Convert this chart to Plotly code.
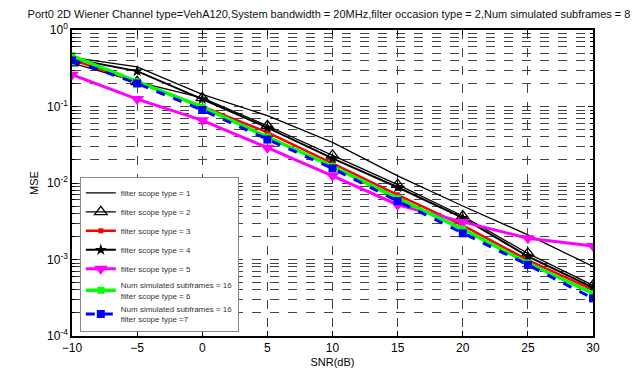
import plotly.graph_objects as go

snr = [-10, -5, 0, 5, 10, 15, 20, 25, 30]

mse_type1 = [0.44, 0.33, 0.144, 0.076, 0.034, 0.0124, 0.0050, 0.0021, 0.00081]
mse_type2 = [0.37, 0.21, 0.13, 0.056, 0.023, 0.0095, 0.0037, 0.0012, 0.00046]
mse_type3 = [0.41, 0.21, 0.10, 0.046, 0.018, 0.0070, 0.0028, 0.00098, 0.00040]
mse_type4 = [0.42, 0.29, 0.125, 0.053, 0.021, 0.0088, 0.0035, 0.0011, 0.00043]
mse_type5 = [0.26, 0.125, 0.066, 0.029, 0.0124, 0.0052, 0.0031, 0.0019, 0.0015]
mse_type6 = [0.46, 0.21, 0.098, 0.040, 0.0165, 0.0063, 0.0025, 0.00090, 0.00036]
mse_type7 = [0.40, 0.20, 0.090, 0.037, 0.0155, 0.0058, 0.0022, 0.00085, 0.00031]

names = [
    "filter scope type = 1",
    "filter scope type = 2",
    "filter scope type = 3",
    "filter scope type = 4",
    "filter scope type = 5",
    "Num simulated subframes = 16<br>filter scope type = 6",
    "Num simulated subframes = 16<br>filter scope type =7",
]

ytick_vals = [1e-4, 1e-3, 1e-2, 1e-1, 1]
ytick_text = ["10<sup>-4</sup>", "10<sup>-3</sup>", "10<sup>-2</sup>", "10<sup>-1</sup>", "10<sup>0</sup>"]
xtick_vals = [-10, -5, 0, 5, 10, 15, 20, 25, 30]

title = ("Port0 2D Wiener Channel type=VehA120,System bandwidth = 20MHz,"
         "filter occasion type = 2,Num simulated subframes = 8")

fig = go.Figure()
styles = [
    (mse_type1, dict(color="black", width=1.3), None),
    (mse_type2, dict(color="black", width=1.3), dict(symbol="triangle-up-open", size=11, color="black", line=dict(width=1.3, color="black"))),
    (mse_type3, dict(color="red", width=2.5), dict(symbol="square", size=5, color="red")),
    (mse_type4, dict(color="black", width=2), dict(symbol="star", size=9, color="black")),
    (mse_type5, dict(color="magenta", width=3), dict(symbol="triangle-down", size=12, color="magenta")),
    (mse_type6, dict(color="#00ff00", width=3.5), dict(symbol="square", size=7, color="#00ff00")),
    (mse_type7, dict(color="blue", width=3, dash="dash"), dict(symbol="square", size=8, color="blue")),
]
for (vals, line, marker), name in zip(styles, names):
    fig.add_trace(go.Scatter(
        x=snr, y=vals, name=name,
        mode="lines+markers" if marker else "lines",
        line=line, marker=marker,
    ))

grid = dict(gridcolor="#444", griddash="dash", gridwidth=1)
fig.update_layout(
    width=642, height=371,
    margin=dict(l=64, r=57, t=22, b=39),
    paper_bgcolor="white", plot_bgcolor="white",
    font=dict(family="Liberation Sans, Arial", size=12, color="black"),
    title=dict(text=title, x=0.5, xanchor="center", y=0.993, yanchor="top",
               font=dict(size=11, color="#111")),
    showlegend=True,
    legend=dict(x=0.015, y=0.012, xanchor="left", yanchor="bottom",
                bgcolor="white", bordercolor="#888", borderwidth=1,
                font=dict(size=8, color="#333"), tracegroupgap=0,
                itemwidth=30),
    xaxis=dict(
        range=[-10, 30], tickvals=xtick_vals, showgrid=True, **grid,
        showline=True, linecolor="black", linewidth=1.5, mirror="ticks",
        ticks="inside", ticklen=5, tickcolor="black", zeroline=False,
        title=dict(text="SNR(dB)", standoff=4, font=dict(size=11)),
    ),
    yaxis=dict(
        type="log", range=[-4, 0], tickvals=ytick_vals, ticktext=ytick_text,
        showgrid=True, **grid,
        minor=dict(dtick="D1", showgrid=True, gridcolor="#444", griddash="dash",
                   ticks="inside", ticklen=3, tickcolor="black"),
        showline=True, linecolor="black", linewidth=1.5, mirror="ticks",
        ticks="inside", ticklen=5, tickcolor="black", zeroline=False,
        title=dict(text="MSE", standoff=6, font=dict(size=11)),
    ),
)
fig.write_html("out.html")
